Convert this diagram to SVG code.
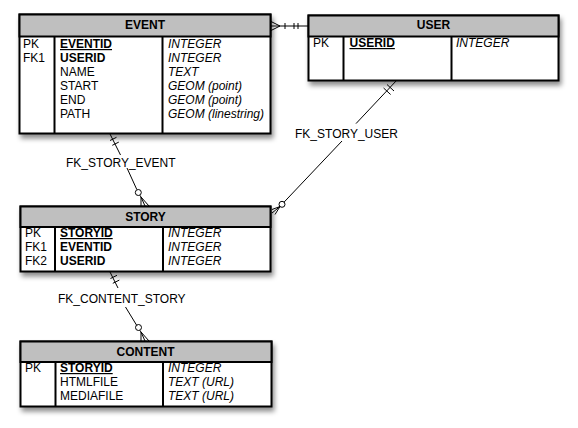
<svg xmlns="http://www.w3.org/2000/svg" width="578" height="428" viewBox="0 0 578 428">
<defs>
<filter id="sh" x="-10%" y="-10%" width="125%" height="135%">
<feDropShadow dx="2" dy="4" stdDeviation="2.5" flood-color="#000" flood-opacity="0.45"/>
</filter>
</defs>
<style>
text{font-family:"Liberation Sans",Arial,sans-serif;font-size:12px;fill:#000}
.hd{font-weight:bold;text-anchor:middle}
.b{font-weight:bold}
.u{text-decoration:underline}
.i{font-style:italic}
.box{fill:#fff;stroke:#000;stroke-width:2}
.head{fill:#bfbfbf;stroke:#000;stroke-width:2}
.div{stroke:#000;stroke-width:2;fill:none}
.ln{stroke:#000;stroke-width:1;fill:none}
.lbl{fill:#fff;stroke:none}
</style>
<rect width="578" height="428" fill="#fff"/>

<g id="connectors">
<!-- EVENT - USER -->
<path class="ln" d="M271 26 H308 M271 21.5 L280 26 L271 30.5 M285 23 V29 M294 23 V29 M298 23 V29"/>
<!-- EVENT - STORY -->
<path class="ln" d="M110 134 L120.5 155 M127 168 L136.8 189.5 M141 197 L141 206 M141 197 L145 206 M141 197 L149 206 M139.8 195.2 L141 197"/>
<path class="ln" d="M110 140.5 L116.5 137.3 M112.3 145.3 L118.8 142.1"/>
<circle class="ln" cx="138.3" cy="192.5" r="3" fill="#fff"/>
<text x="66" y="166.5">FK_STORY_EVENT</text>
<!-- USER - STORY -->
<path class="ln" d="M397 80 L356 123.6 M342 141 L284 202.2 M280 206.5 L272 209.5 M280 206.5 L272 213 M280 206.5 L275 214.5"/>
<path class="ln" d="M387 84.5 L394 91 M383.6 88 L390.6 94.5"/>
<circle class="ln" cx="282" cy="204.3" r="3" fill="#fff"/>
<text x="295" y="138">FK_STORY_USER</text>
<!-- STORY - CONTENT -->
<path class="ln" d="M110 272 L118 288 M125.5 307 L136.8 325.5 M141 332 L141 341 M141 332 L145 341 M141 332 L149 341 M139.8 330.3 L141 332"/>
<path class="ln" d="M110.5 278.5 L117 275.3 M112.8 283.3 L119.3 280.1"/>
<circle class="ln" cx="138.5" cy="327.5" r="3" fill="#fff"/>
<text x="58" y="303">FK_CONTENT_STORY</text>
</g>

<g id="event">
<rect class="box" x="19.5" y="14.5" width="251" height="119" filter="url(#sh)"/>
<rect class="head" x="19.5" y="14.5" width="251" height="22"/>
<path class="div" d="M54.5 36.5 V133.5 M162.5 36.5 V133.5"/>
<text class="hd" x="145" y="29">EVENT</text>
<text x="23" y="48">PK</text>
<text x="23" y="62">FK1</text>
<text class="b u" x="60" y="48">EVENTID</text>
<text class="b" x="60" y="62">USERID</text>
<text x="60" y="76">NAME</text>
<text x="60" y="90">START</text>
<text x="60" y="104">END</text>
<text x="60" y="118">PATH</text>
<text class="i" x="168" y="48">INTEGER</text>
<text class="i" x="168" y="62">INTEGER</text>
<text class="i" x="168" y="76">TEXT</text>
<text class="i" x="168" y="90">GEOM (point)</text>
<text class="i" x="168" y="104">GEOM (point)</text>
<text class="i" x="168" y="118">GEOM (linestring)</text>
</g>

<g id="user">
<rect class="box" x="308.5" y="15.5" width="250" height="65" filter="url(#sh)"/>
<rect class="head" x="308.5" y="15.5" width="250" height="21"/>
<path class="div" d="M343.5 36.5 V80.5 M451.5 36.5 V80.5"/>
<text class="hd" x="433.5" y="29">USER</text>
<text x="313" y="47">PK</text>
<text class="b u" x="349.5" y="47">USERID</text>
<text class="i" x="456" y="47">INTEGER</text>
</g>

<g id="story">
<rect class="box" x="20.5" y="206.5" width="250" height="65" filter="url(#sh)"/>
<rect class="head" x="20.5" y="206.5" width="250" height="20.5"/>
<path class="div" d="M55 227 V271.5 M163 227 V271.5"/>
<text class="hd" x="145.5" y="220.5">STORY</text>
<text x="25" y="237">PK</text>
<text x="25" y="251">FK1</text>
<text x="25" y="265">FK2</text>
<text class="b u" x="60" y="237">STORYID</text>
<text class="b" x="60" y="251">EVENTID</text>
<text class="b" x="60" y="265">USERID</text>
<text class="i" x="168" y="237">INTEGER</text>
<text class="i" x="168" y="251">INTEGER</text>
<text class="i" x="168" y="265">INTEGER</text>
</g>

<g id="content">
<rect class="box" x="20.5" y="341.5" width="251" height="65" filter="url(#sh)"/>
<rect class="head" x="20.5" y="341.5" width="251" height="20.5"/>
<path class="div" d="M55.5 362 V406.5 M163 362 V406.5"/>
<text class="hd" x="145.5" y="356">CONTENT</text>
<text x="25" y="372">PK</text>
<text class="b u" x="60" y="372">STORYID</text>
<text x="60" y="386">HTMLFILE</text>
<text x="60" y="400">MEDIAFILE</text>
<text class="i" x="168" y="372">INTEGER</text>
<text class="i" x="168" y="386">TEXT (URL)</text>
<text class="i" x="168" y="400">TEXT (URL)</text>
</g>
</svg>
